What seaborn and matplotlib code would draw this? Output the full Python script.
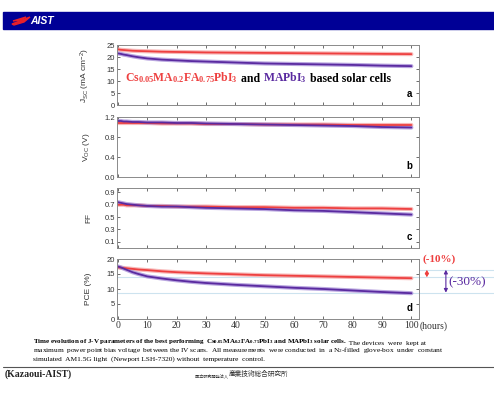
import matplotlib
matplotlib.use('Agg')
import matplotlib.pyplot as plt
import pandas as pd
import seaborn as sns
from matplotlib.lines import Line2D
from matplotlib.patches import Polygon, Rectangle

# sampled hours and read-off values (red = Cs0.05MA0.2FA0.75PbI3, purple = MAPbI3)
hours = [0, 1, 2, 3, 5, 7, 10, 15, 20, 25, 30, 40, 50, 60, 70, 80, 90, 100]

jsc_cs = [23.2, 23.0, 22.9, 22.8, 22.6, 22.5, 22.4, 22.2, 22.1, 22.0, 21.9, 21.8, 21.7, 21.6, 21.5, 21.4, 21.3, 21.2]
jsc_ma = [21.5, 21.3, 21.0, 20.8, 20.3, 19.9, 19.4, 18.9, 18.6, 18.3, 18.1, 17.7, 17.3, 17.1, 16.9, 16.7, 16.4, 16.2]

voc_cs = [1.08, 1.08, 1.08, 1.08, 1.08, 1.08, 1.08, 1.07, 1.07, 1.07, 1.06, 1.06, 1.05, 1.05, 1.05, 1.04, 1.04, 1.04]
voc_ma = [1.12, 1.12, 1.11, 1.11, 1.10, 1.10, 1.09, 1.09, 1.08, 1.08, 1.07, 1.06, 1.05, 1.04, 1.03, 1.02, 1.00, 0.99]

ff_cs = [0.70, 0.70, 0.70, 0.69, 0.69, 0.69, 0.68, 0.68, 0.67, 0.67, 0.67, 0.66, 0.66, 0.65, 0.65, 0.64, 0.64, 0.63]
ff_ma = [0.74, 0.73, 0.72, 0.71, 0.70, 0.69, 0.68, 0.67, 0.67, 0.66, 0.65, 0.64, 0.63, 0.61, 0.60, 0.58, 0.56, 0.54]

pce_cs = [17.2, 17.1, 17.0, 16.9, 16.7, 16.5, 16.3, 15.9, 15.6, 15.4, 15.2, 14.9, 14.6, 14.4, 14.2, 14.0, 13.8, 13.6]
pce_ma = [17.5, 17.2, 16.8, 16.4, 15.6, 15.0, 14.2, 13.5, 12.9, 12.4, 12.0, 11.4, 10.9, 10.4, 10.0, 9.5, 9.0, 8.6]

# reference levels for the PCE loss markers
pce_levels = [16.4, 13.9, 8.8]

x_ticks = [0, 10, 20, 30, 40, 50, 60, 70, 80, 90, 100]

RED = '#ee4040'
RED_HALO = '#f6a6a6'
PURPLE = '#5a2aa0'
PURPLE_HALO = '#a890d8'

rows = []
for param, cs_vals, ma_vals in [('jsc', jsc_cs, jsc_ma), ('voc', voc_cs, voc_ma),
                                ('ff', ff_cs, ff_ma), ('pce', pce_cs, pce_ma)]:
    for t, c, m in zip(hours, cs_vals, ma_vals):
        rows.append({'param': param, 'hours': t, 'cell': 'Cs', 'value': c})
        rows.append({'param': param, 'hours': t, 'cell': 'MA', 'value': m})
df = pd.DataFrame(rows)

sns.set_style('ticks')
plt.rcParams['font.family'] = ['Liberation Sans', 'DejaVu Sans']
plt.rcParams['mathtext.default'] = 'regular'

fig = plt.figure(figsize=(4.94, 3.94), dpi=100)

# header bar with logo
fig.patches.append(Rectangle((3 / 494, 1 - 29 / 394), 491 / 494, 17 / 394,
                             transform=fig.transFigure, color='#000096', zorder=0))
fig.patches.append(Polygon([(12 / 494, 1 - 24 / 394), (30 / 494, 1 - 17 / 394),
                            (24 / 494, 1 - 22 / 394), (14 / 494, 1 - 25 / 394)],
                           closed=True, transform=fig.transFigure, color='#e8202a'))
fig.patches.append(Polygon([(13 / 494, 1 - 21 / 394), (26 / 494, 1 - 17 / 394),
                            (21 / 494, 1 - 20 / 394)],
                           closed=True, transform=fig.transFigure, color='#e8202a'))
fig.text(30 / 494, 1 - 21 / 394, 'AIST', color='white', fontsize=7.5, weight='bold',
         style='italic', va='center', ha='left')

left = 117 / 494
width = 302 / 494
height = 60 / 394
panels = [
    ('jsc', 1 - 105 / 394, (0, 25), [0, 5, 10, 15, 20, 25], None, 'J$_{SC}$ (mA cm$^{-2}$)', 'a'),
    ('voc', 1 - 177 / 394, (0, 1.2), [0.0, 0.4, 0.8, 1.2], '{:.1f}', 'V$_{OC}$ (V)', 'b'),
    ('ff', 1 - 248 / 394, (0, 0.97), [0.1, 0.3, 0.5, 0.7, 0.9], '{:.1f}', 'FF', 'c'),
    ('pce', 1 - 319 / 394, (0, 20), [0, 5, 10, 15, 20], None, 'PCE (%)', 'd'),
]

axes = []
for param, bottom, ylim, yticks, fmt, ylabel, letter in panels:
    ax = fig.add_axes([left, bottom, width, height])
    sub = df[df['param'] == param]
    sns.lineplot(data=sub, x='hours', y='value', hue='cell', palette={'Cs': RED_HALO, 'MA': PURPLE_HALO},
                 linewidth=3.0, alpha=0.8, legend=False, ax=ax)
    sns.lineplot(data=sub, x='hours', y='value', hue='cell', palette={'Cs': RED, 'MA': PURPLE},
                 linewidth=1.3, legend=False, ax=ax)
    ax.set_xlim(-0.3, 102.6)
    ax.set_ylim(*ylim)
    ax.set_yticks(yticks)
    if fmt:
        ax.set_yticklabels([fmt.format(v) for v in yticks])
    ax.set_xticks(x_ticks)
    ax.tick_params(direction='in', length=2.5, width=0.6, top=True, right=True,
                   labelsize=5.5, colors='#555555', labelcolor='#333333', pad=1.5)
    for sp in ax.spines.values():
        sp.set_color('#8a8a8a')
        sp.set_linewidth(0.7)
    ax.set_ylabel(ylabel, fontsize=6, color='#333333')
    ax.yaxis.set_label_coords(-0.083, 0.5)
    ax.set_xlabel('')
    if param != 'pce':
        ax.set_xticklabels([])
    ax.text(0.968, 0.18, letter, transform=ax.transAxes, fontsize=7, weight='bold',
            ha='center', va='center', color='black')
    axes.append(ax)

ax_a, ax_b, ax_c, ax_d = axes

# x tick labels of the bottom panel in serif
for lab in ax_d.get_xticklabels():
    lab.set_fontfamily('Liberation Serif')
    lab.set_fontsize(7)
ax_d.annotate('(hours)', xy=(1.003, 0), xycoords='axes fraction', xytext=(0, -1.9),
              textcoords='offset points', ha='left', va='top', fontsize=7,
              family='Liberation Serif', color='#333333')

# title text inside panel a
serif_bold = dict(family='Liberation Serif', weight='bold', fontsize=8.5)
t1 = ax_a.text(0.026, 0.40, 'Cs$_{0.05}$MA$_{0.2}$FA$_{0.75}$PbI$_3$', transform=ax_a.transAxes,
               color=RED, va='baseline', ha='left', **serif_bold)
t2 = ax_a.annotate(' and ', xy=(1, 0), xycoords=t1, va='bottom', ha='left', color='black', **serif_bold)
t3 = ax_a.annotate('MAPbI$_3$', xy=(1, 0), xycoords=t2, va='bottom', ha='left', color=PURPLE, **serif_bold)
ax_a.annotate(' based solar cells', xy=(1, 0), xycoords=t3, va='bottom', ha='left', color='black', **serif_bold)

# PCE loss guides
ytr = ax_d.get_yaxis_transform()
ax_d.add_line(Line2D([1.0, 1.25], [pce_levels[0]] * 2, transform=ytr, color='#cde3ef', lw=0.8, clip_on=False))
for lvl in pce_levels[1:]:
    ax_d.add_line(Line2D([0.0, 1.25], [lvl] * 2, transform=ytr, color='#cde3ef', lw=0.8,
                         clip_on=False, zorder=0.5))
arrow_style = '<|-|>,head_length=0.35,head_width=0.18'
ax_d.annotate('', xy=(1.026, pce_levels[0]), xytext=(1.026, pce_levels[1]), xycoords=ytr,
              textcoords=ytr, annotation_clip=False,
              arrowprops=dict(arrowstyle=arrow_style, color=RED, lw=0.8, mutation_scale=6,
                              shrinkA=0, shrinkB=0))
ax_d.annotate('', xy=(1.089, pce_levels[0]), xytext=(1.089, pce_levels[2]), xycoords=ytr,
              textcoords=ytr, annotation_clip=False,
              arrowprops=dict(arrowstyle=arrow_style, color=PURPLE, lw=0.8, mutation_scale=6,
                              shrinkA=0, shrinkB=0))
ax_d.text(1.012, 19.8, '(-10%)', transform=ytr, color=RED, fontsize=8, weight='bold',
          family='Liberation Serif', ha='left', va='center', clip_on=False)
ax_d.text(1.096, 12.3, '(-30%)', transform=ytr, color=PURPLE, fontsize=9.5,
          family='Liberation Serif', ha='left', va='center', clip_on=False)

# caption
cap_b = dict(family='Liberation Serif', fontsize=5, color='black')
cap = dict(family='Liberation Serif', fontsize=5.3, color='black')
c1 = fig.text(33 / 494, 1 - 343 / 394,
              'Time evolution of J-V parameters of the best performing  Cs$_{0.05}$MA$_{0.2}$FA$_{0.75}$PbI$_3$'
              ' and MAPbI$_3$ solar cells.', weight='bold', va='baseline', ha='left', **cap_b)
ax_d.annotate(' The devices  were  kept at', xy=(1, 0), xycoords=c1, va='bottom', ha='left', **cap)
fig.text(33 / 494, 1 - 352 / 394,
         'maximum  power point bias voltage  between the IV scans.  All measurements  were conducted  in  a N$_2$-filled'
         '  glove-box  under  constant', va='baseline', ha='left', **cap)
fig.text(33 / 494, 1 - 361 / 394,
         'simulated  AM1.5G light  (Newport LSH-7320) without  temperature  control.',
         va='baseline', ha='left', **cap)

fig.add_artist(Line2D([3 / 494, 1.0], [1 - 367 / 394] * 2, transform=fig.transFigure, color='#555555', lw=0.8))
fig.text(5 / 494, 1 - 377 / 394, '(Kazaoui-AIST)', family='Liberation Serif', weight='bold',
         fontsize=7, ha='left', va='baseline', color='#222222')
j1 = fig.text(195 / 494, 1 - 377 / 394, '国立研究開発法人 ', family=['Noto Sans CJK JP', 'DejaVu Sans'],
              fontsize=3, ha='left', va='baseline', color='#333333')
ax_d.annotate('産業技術総合研究所', xy=(1, 0), xycoords=j1, va='bottom', ha='left',
              family=['Noto Sans CJK JP', 'DejaVu Sans'], fontsize=4.8, color='#333333')

fig.savefig('out.png', dpi=100)
